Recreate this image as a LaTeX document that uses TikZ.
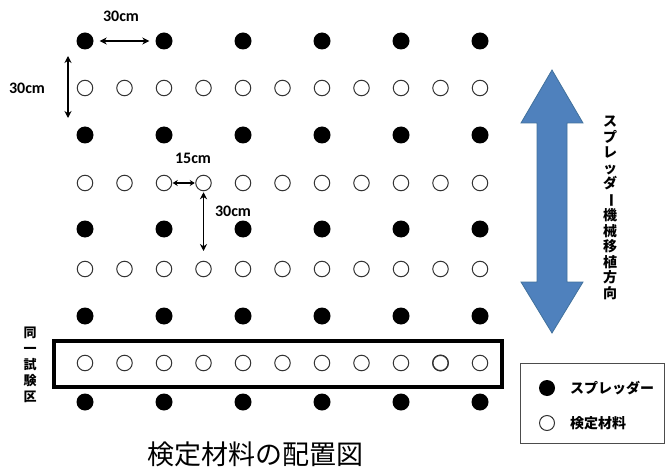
\documentclass[tikz,border=0pt]{standalone}
\usepackage{fontspec}
\setmainfont{Carlito}
\newfontfamily\cjk{Noto Sans CJK JP}
\usetikzlibrary{arrows.meta}
\definecolor{arrowblue}{HTML}{4F81BD}
\definecolor{arrowedge}{HTML}{41719C}
\tikzset{
  fdot/.style={circle,fill=black,minimum size=17pt,inner sep=0pt},
  odot/.style={circle,draw=black!80,line width=1pt,fill=white,minimum size=15.5pt,inner sep=0pt},
  dim/.style={line width=1.7pt,{Stealth[length=7pt,width=7pt]}-{Stealth[length=7pt,width=7pt]}},
  dimlabel/.style={font=\bfseries\fontsize{16}{16}\selectfont,inner sep=0pt},
  vlabel/.style={align=center,inner sep=0pt},
}
\begin{document}
\begin{tikzpicture}[x=1pt,y=-1pt]
\useasboundingbox (0,0) rectangle (668,470);
% filled rows
\foreach \r/\yy in {1/41,2/135,3/229,4/316,5/402}{
  \foreach \c in {0,...,5}{
    \node[fdot] (f\r-\c) at ({85+79*\c},\yy) {};
  }
}
% open rows
\foreach \r/\yy in {1/88,2/183,3/269,4/363}{
  \foreach \c in {0,...,10}{
    \node[odot] (o\r-\c) at ({85+39.5*\c},\yy) {};
  }
}
% test plot box
\node[draw,line width=3.5pt,minimum width=448pt,minimum height=46pt,inner sep=0pt] (plot) at (278,364) {};
\node[odot,line width=1.4pt] (o4-9b) at (o4-9) {};
\node[vlabel,font=\cjk\bfseries\fontsize{13}{16}\selectfont] (plotlabel) at (30,365) {同\\一\\試\\験\\区};
% dimensions
\draw[dim] ([xshift=6pt]f1-0.east) -- ([xshift=-6pt]f1-1.west);
\node[dimlabel] (l1) at (121,16) {30cm};
\coordinate (v1a) at (68,56);
\coordinate (v1b) at (68,118);
\draw[dim] (v1a) -- (v1b);
\node[dimlabel] (l2) at (27,88) {30cm};
\draw[line width=1.6pt,{Stealth[length=5pt,width=6pt]}-{Stealth[length=5pt,width=6pt]}] ([xshift=0.5pt]o2-2.east) -- ([xshift=-0.5pt]o2-3.west);
\node[dimlabel] (l3) at (193,158) {15cm};
\coordinate (v2b) at (o2-3 |- 0,251);
\draw[dim] ([yshift=-1pt]o2-3.south) -- (v2b);
\node[dimlabel] (l4) at (233,211) {30cm};
% direction arrow
\draw[fill=arrowblue,draw=arrowedge,line width=0.8pt]
  (552,70) -- (583,123) -- (567,123) -- (567,282) -- (583,282) -- (552,333)
  -- (521,282) -- (537,282) -- (537,123) -- (521,123) -- cycle;
\node[vlabel,font=\cjk\bfseries\fontsize{14}{15.5}\selectfont] (dir) at (610,208)
  {ス\\プ\\レ\\ッ\\ダ\\\rotatebox[origin=c]{-90}{ー}\\機\\械\\移\\植\\方\\向};
% legend
\node[draw=black!70,line width=0.8pt,minimum width=144pt,minimum height=80pt,inner sep=0pt] (legend) at (592,403) {};
\node[fdot,minimum size=16pt] (lf) at (547,388) {};
\node[odot,minimum size=15pt] (lo) at (547,423) {};
\node[anchor=west,inner sep=0pt,font=\cjk\bfseries\fontsize{14}{14}\selectfont] (lft) at (570,388) {スプレッダー};
\node[anchor=west,inner sep=0pt,font=\cjk\bfseries\fontsize{14}{14}\selectfont] (lot) at (570,423) {検定材料};
% caption
\node[inner sep=0pt,font=\cjk\fontsize{27}{27}\selectfont] (caption) at (255,454) {検定材料の配置図};
\end{tikzpicture}
\end{document}
